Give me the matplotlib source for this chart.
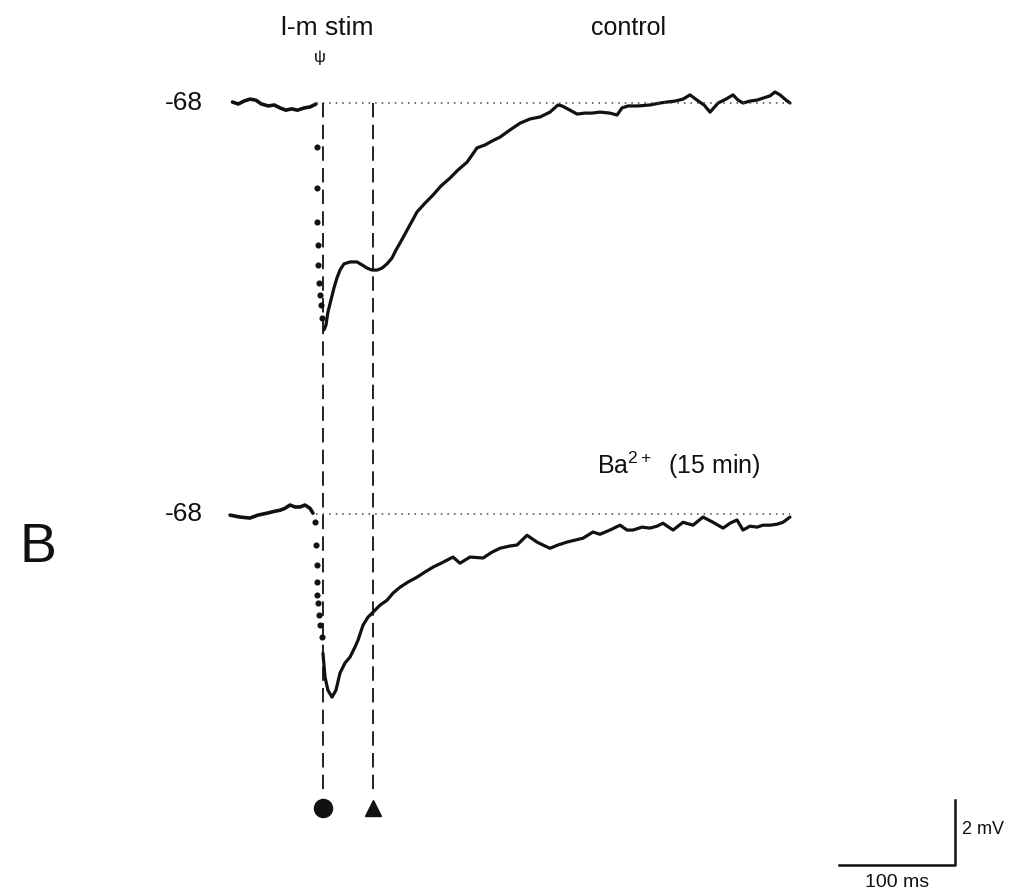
import matplotlib
matplotlib.use("Agg")
import numpy as np
import matplotlib.pyplot as plt

plt.rcParams['font.family'] = ['Liberation Sans', 'DejaVu Sans']
plt.rcParams['mathtext.fontset'] = 'custom'
plt.rcParams['mathtext.rm'] = 'Liberation Sans'
plt.rcParams['mathtext.it'] = 'Liberation Sans'

# resting potential (mV) and time of the two marked points (ms after onset)
REST = -68.0
T_PEAK = 6.0
T_LATE = 49.1

# --- control trace: time (ms), deviation from rest (mV)
ctrl_base_t = [-72, -67, -62, -57, -52, -47, -41, -36, -31, -26, -21, -16, -10, -5, 0]
ctrl_base_v = [0.03, -0.03, 0.06, 0.12, 0.09, -0.03, -0.09, -0.06, -0.15, -0.22,
               -0.18, -0.22, -0.15, -0.12, -0.03]
ctrl_fall_t = [0.9, 1.0, 1.1, 1.7, 1.8, 2.6, 3.4, 4.3, 5.2]
ctrl_fall_v = [-1.35, -2.62, -3.66, -4.37, -4.98, -5.54, -5.91, -6.22, -6.62]
ctrl_t = [6.9, 8.6, 10.3, 12.9, 15.5, 18.1, 20.7, 24.1, 29.3, 35.3, 39.7, 44.0,
          48.3, 52.6, 56.9, 61.2, 65.5, 69.0, 72.4, 76.7, 81.0, 87.1, 94.0, 100.9,
          107.8, 115.5, 122.4, 130.2, 134.5, 138.8, 145.7, 151.7, 158.6, 167.2,
          175.9, 184.5, 193.1, 201.7, 208.6, 212.1, 219.0, 225.0, 231.9, 237.9,
          244.8, 253.4, 259.5, 263.8, 269.0, 277.6, 287.9, 296.6, 302.6, 309.5,
          316.4, 322.4, 328.4, 334.5, 339.7, 346.6, 353.4, 359.5, 363.8, 368.1,
          374.1, 380.2, 385.3, 391.4, 395.7, 400.0, 405.2, 408.6]
ctrl_v = [-6.98, -6.83, -6.43, -6.06, -5.69, -5.38, -5.14, -4.95, -4.89, -4.89,
          -4.98, -5.08, -5.14, -5.14, -5.08, -4.95, -4.77, -4.52, -4.31, -4.03,
          -3.75, -3.35, -3.08, -2.83, -2.55, -2.31, -2.06, -1.82, -1.60, -1.38,
          -1.29, -1.17, -1.05, -0.83, -0.62, -0.49, -0.43, -0.28, -0.06, -0.09,
          -0.22, -0.34, -0.31, -0.31, -0.28, -0.31, -0.37, -0.15, -0.09, -0.09,
          -0.06, 0.00, 0.03, 0.06, 0.12, 0.25, 0.09, -0.06, -0.28, 0.00, 0.12,
          0.25, 0.09, 0.00, 0.06, 0.09, 0.15, 0.22, 0.34, 0.25, 0.09, 0.00]

# --- Ba2+ (15 min) trace
ba_base_t = [-74.1, -65.5, -56.9, -50.0, -42.2, -35.3, -31.0, -26.7, -22.4, -18.1,
             -13.8, -9.5, -5.2, -2.6]
ba_base_v = [-0.03, -0.09, -0.12, -0.03, 0.03, 0.09, 0.12, 0.18, 0.28, 0.22,
             0.22, 0.28, 0.18, 0.03]
ba_fall_t = [-0.9, 0.0, 0.9, 1.0, 1.1, 1.7, 2.6, 3.4, 5.2]
ba_fall_v = [-0.25, -0.95, -1.57, -2.09, -2.49, -2.74, -3.11, -3.42, -3.78]
ba_t = [6.0, 7.8, 10.3, 13.8, 17.2, 20.7, 25.0, 29.3, 33.6, 36.2, 40.5, 44.8,
        49.1, 55.2, 61.2, 66.4, 72.4, 79.3, 87.1, 94.0, 100.9, 109.5, 118.1,
        124.1, 132.8, 144.0, 151.7, 158.6, 167.2, 173.3, 181.9, 190.5, 197.4,
        201.7, 208.6, 216.4, 223.3, 230.2, 238.8, 244.8, 253.4, 262.1, 268.1,
        273.3, 281.0, 287.9, 294.0, 299.1, 307.8, 316.4, 325.0, 333.6, 342.2,
        350.9, 356.9, 362.9, 368.1, 374.1, 380.2, 385.3, 391.4, 397.4, 402.6, 408.6]
ba_v = [-4.28, -5.02, -5.42, -5.63, -5.42, -4.89, -4.58, -4.40, -4.09, -3.88,
        -3.42, -3.17, -3.02, -2.80, -2.65, -2.43, -2.25, -2.09, -1.94, -1.78,
        -1.63, -1.48, -1.32, -1.51, -1.32, -1.35, -1.17, -1.05, -0.98, -0.95,
        -0.65, -0.86, -0.98, -1.05, -0.95, -0.86, -0.80, -0.74, -0.55, -0.62,
        -0.49, -0.34, -0.49, -0.49, -0.40, -0.43, -0.37, -0.28, -0.49, -0.25,
        -0.34, -0.09, -0.25, -0.43, -0.28, -0.18, -0.49, -0.37, -0.40, -0.34,
        -0.34, -0.31, -0.25, -0.09]

# vertical gap between the two traces on the page (mV)
BA_OFFSET = 12.65

fig = plt.figure(figsize=(10.14, 8.96), dpi=100)
ax = fig.add_axes([0, 0, 1, 1])
ax.set_xlim(-272.4, 601.7)
ax.set_ylim(-92.4, -64.83)
ax.axis('off')

ink = '#111111'


def draw_trace(base_t, base_v, fall_t, fall_v, t, v, y0):
    ax.plot(base_t, np.array(base_v) + y0, color=ink, lw=2.6, solid_capstyle='round')
    ax.plot(fall_t, np.array(fall_v) + y0, ls='none', marker='o', ms=3.4, color=ink)
    ax.plot(t, np.array(v) + y0, color=ink, lw=2.3, solid_capstyle='round')
    ax.plot([0, 408.6], [y0, y0], color='#444444', lw=1.1, ls=(0, (1, 3.3)))


y_ba = REST - BA_OFFSET
draw_trace(ctrl_base_t, ctrl_base_v, ctrl_fall_t, ctrl_fall_v, ctrl_t, ctrl_v, REST)
draw_trace(ba_base_t, ba_base_v, ba_fall_t, ba_fall_v, ba_t, ba_v, y_ba)

# dashed guide lines and their markers
y_bottom = -89.14
for tx in (T_PEAK, T_LATE):
    ax.plot([tx, tx], [REST, y_bottom], color=ink, lw=1.3, ls=(0, (8, 4)))
ax.plot(T_PEAK, -89.69, marker='o', ms=13, color=ink)
ax.plot(T_LATE, -89.69, marker='^', ms=12, color=ink)

# labels
ax.text(-97.4, REST, '-68', ha='right', va='center', fontsize=19, color=ink)
ax.text(-97.4, y_ba, '-68', ha='right', va='center', fontsize=19, color=ink)
ax.text(9.5, -65.69, 'l-m stim', ha='center', va='center', fontsize=19, color=ink)
ax.text(3.4, -66.6, '\u03c8', ha='center', va='center', fontsize=12, color=ink)
ax.text(269, -65.69, 'control', ha='center', va='center', fontsize=18, color=ink)
ax.text(242, -79.14, r'Ba$^{2+}$  (15 min)', ha='left', va='center', fontsize=18, color=ink)
ax.text(-239.7, -81.69, 'B', ha='center', va='center', fontsize=40, color=ink)

# scale bar: 100 ms, 2 mV
sb_t0, sb_v0 = 450.9, -91.45
ax.plot([sb_t0, sb_t0 + 100, sb_t0 + 100], [sb_v0, sb_v0, sb_v0 + 2], color=ink, lw=1.8)
ax.text(sb_t0 + 106, sb_v0 + 1.1, '2 mV', ha='left', va='center', fontsize=13, color=ink)
ax.text(sb_t0 + 50, sb_v0 - 0.52, '100 ms', ha='center', va='center', fontsize=14, color=ink)

fig.savefig('out.png', dpi=100, facecolor='white')
